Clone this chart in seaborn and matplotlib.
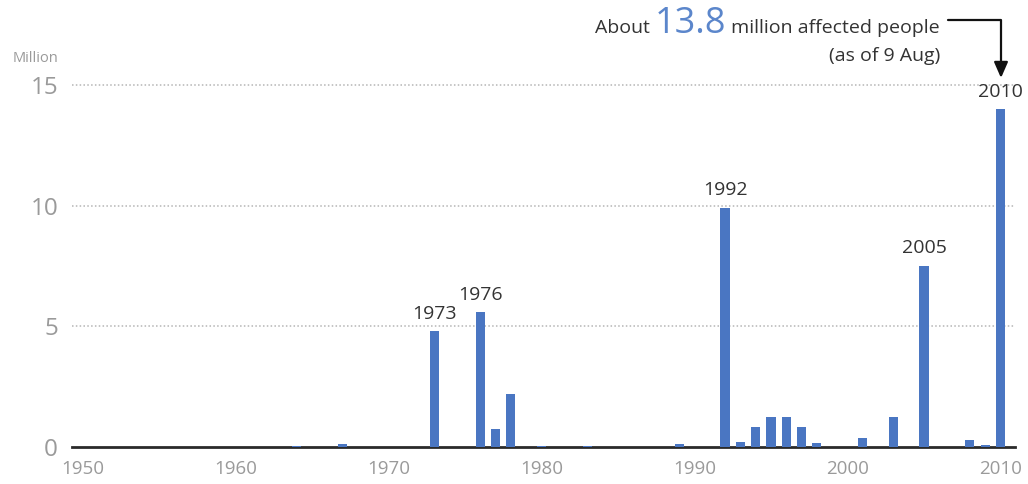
import matplotlib
matplotlib.use("Agg")
import matplotlib.pyplot as plt
import seaborn as sns
import pandas as pd

# ---- data ----
years = [1964, 1967, 1973, 1976, 1977, 1978, 1980, 1983, 1989, 1992, 1993, 1994,
         1995, 1996, 1997, 1998, 2001, 2003, 2005, 2008, 2009, 2010]
values = [0.06, 0.12, 4.8, 5.6, 0.75, 2.2, 0.06, 0.04, 0.12, 9.93, 0.22, 0.82,
          1.23, 1.26, 0.82, 0.18, 0.37, 1.24, 7.52, 0.3, 0.07, 14.0]
labeled_years = [1973, 1976, 1992, 2005, 2010]
x_ticks = [1950, 1960, 1970, 1980, 1990, 2000, 2010]
y_ticks = [0, 5, 10, 15]
unit_label = "Million"
note_pre = "About "
note_num = "13.8"
note_post = " million affected people"
note_line2 = "(as of 9 Aug)"

BLUE = "#4a76c2"
NUM_BLUE = "#5b86cb"
DARK = "#333333"
GRAY = "#9a9a9a"

sns.set_theme(style="white")
plt.rcParams["font.family"] = ["Open Sans", "DejaVu Sans"]

W, H = 1028, 484
fig = plt.figure(figsize=(W / 100, H / 100), dpi=100)
# axes placed in pixels: left 72, right 1015, bottom(y from top) 447, top 78
ax = fig.add_axes([72 / W, (H - 447) / H, (1015 - 72) / W, (447 - 78) / H])

df = pd.DataFrame({"year": years, "value": values})
sns.barplot(data=df, x="year", y="value", native_scale=True, width=0.6,
            color=BLUE, saturation=1, errorbar=None, ax=ax, zorder=3,
            linewidth=0, edgecolor="none")

ax.set_xlim(1949.32, 2010.95)
ax.set_ylim(0, 15.3)
ax.set_xticks(x_ticks)
ax.set_xticklabels([str(t) for t in x_ticks])
ax.set_yticks(y_ticks)
ax.set_yticklabels([str(t) for t in y_ticks])
ax.set_xlabel("")
ax.set_ylabel("")

ax.tick_params(axis="x", length=0, pad=9, labelsize=13.5, labelcolor=GRAY)
ax.tick_params(axis="y", length=0, pad=10, labelsize=17.5, labelcolor=GRAY)

for s in ["top", "right", "left"]:
    ax.spines[s].set_visible(False)
ax.spines["bottom"].set_color("#2a2a2a")
ax.spines["bottom"].set_linewidth(2)
ax.spines["bottom"].set_zorder(2)

for yv in y_ticks[1:]:
    ax.axhline(yv, color="#b5b5b5", lw=1.1, ls=(0, (1, 1.5)), zorder=1)

# year labels above highlighted bars
for yr, v in zip(years, values):
    if yr in labeled_years:
        ax.annotate(str(yr), xy=(yr, v), xytext=(0, 6), textcoords="offset points",
                    ha="center", va="bottom", fontsize=14, color=DARK,
                    annotation_clip=False)

# unit label
fig.text(36 / W, 1 - 58 / H, unit_label, ha="center", va="center",
         fontsize=10.5, color=GRAY)

# top note (built right-to-left from fixed anchor)
t_post = fig.text(940 / W, 1 - 33 / H, note_post, ha="right", va="baseline",
                  fontsize=14, color=DARK)
fig.canvas.draw()
r = fig.canvas.get_renderer()
bb = t_post.get_window_extent(r)
t_num = fig.text(bb.x0 / W, 1 - 33 / H, note_num, ha="right", va="baseline",
                 fontsize=26, color=NUM_BLUE)
bb2 = t_num.get_window_extent(r)
fig.text(bb2.x0 / W, 1 - 33 / H, note_pre, ha="right", va="baseline",
         fontsize=14, color=DARK)
fig.text(940 / W, 1 - 61 / H, note_line2, ha="right", va="baseline",
         fontsize=14, color=DARK)

ax.annotate("", xy=(1001, H - 78), xytext=(948, H - 20),
            xycoords="figure pixels", textcoords="figure pixels",
            arrowprops=dict(arrowstyle="-|>,head_length=0.8,head_width=0.35",
                            connectionstyle="angle,angleA=0,angleB=90,rad=0",
                            color="#111111", lw=1.6, shrinkA=0, shrinkB=0))

fig.savefig("out.png", dpi=100, facecolor="white")
